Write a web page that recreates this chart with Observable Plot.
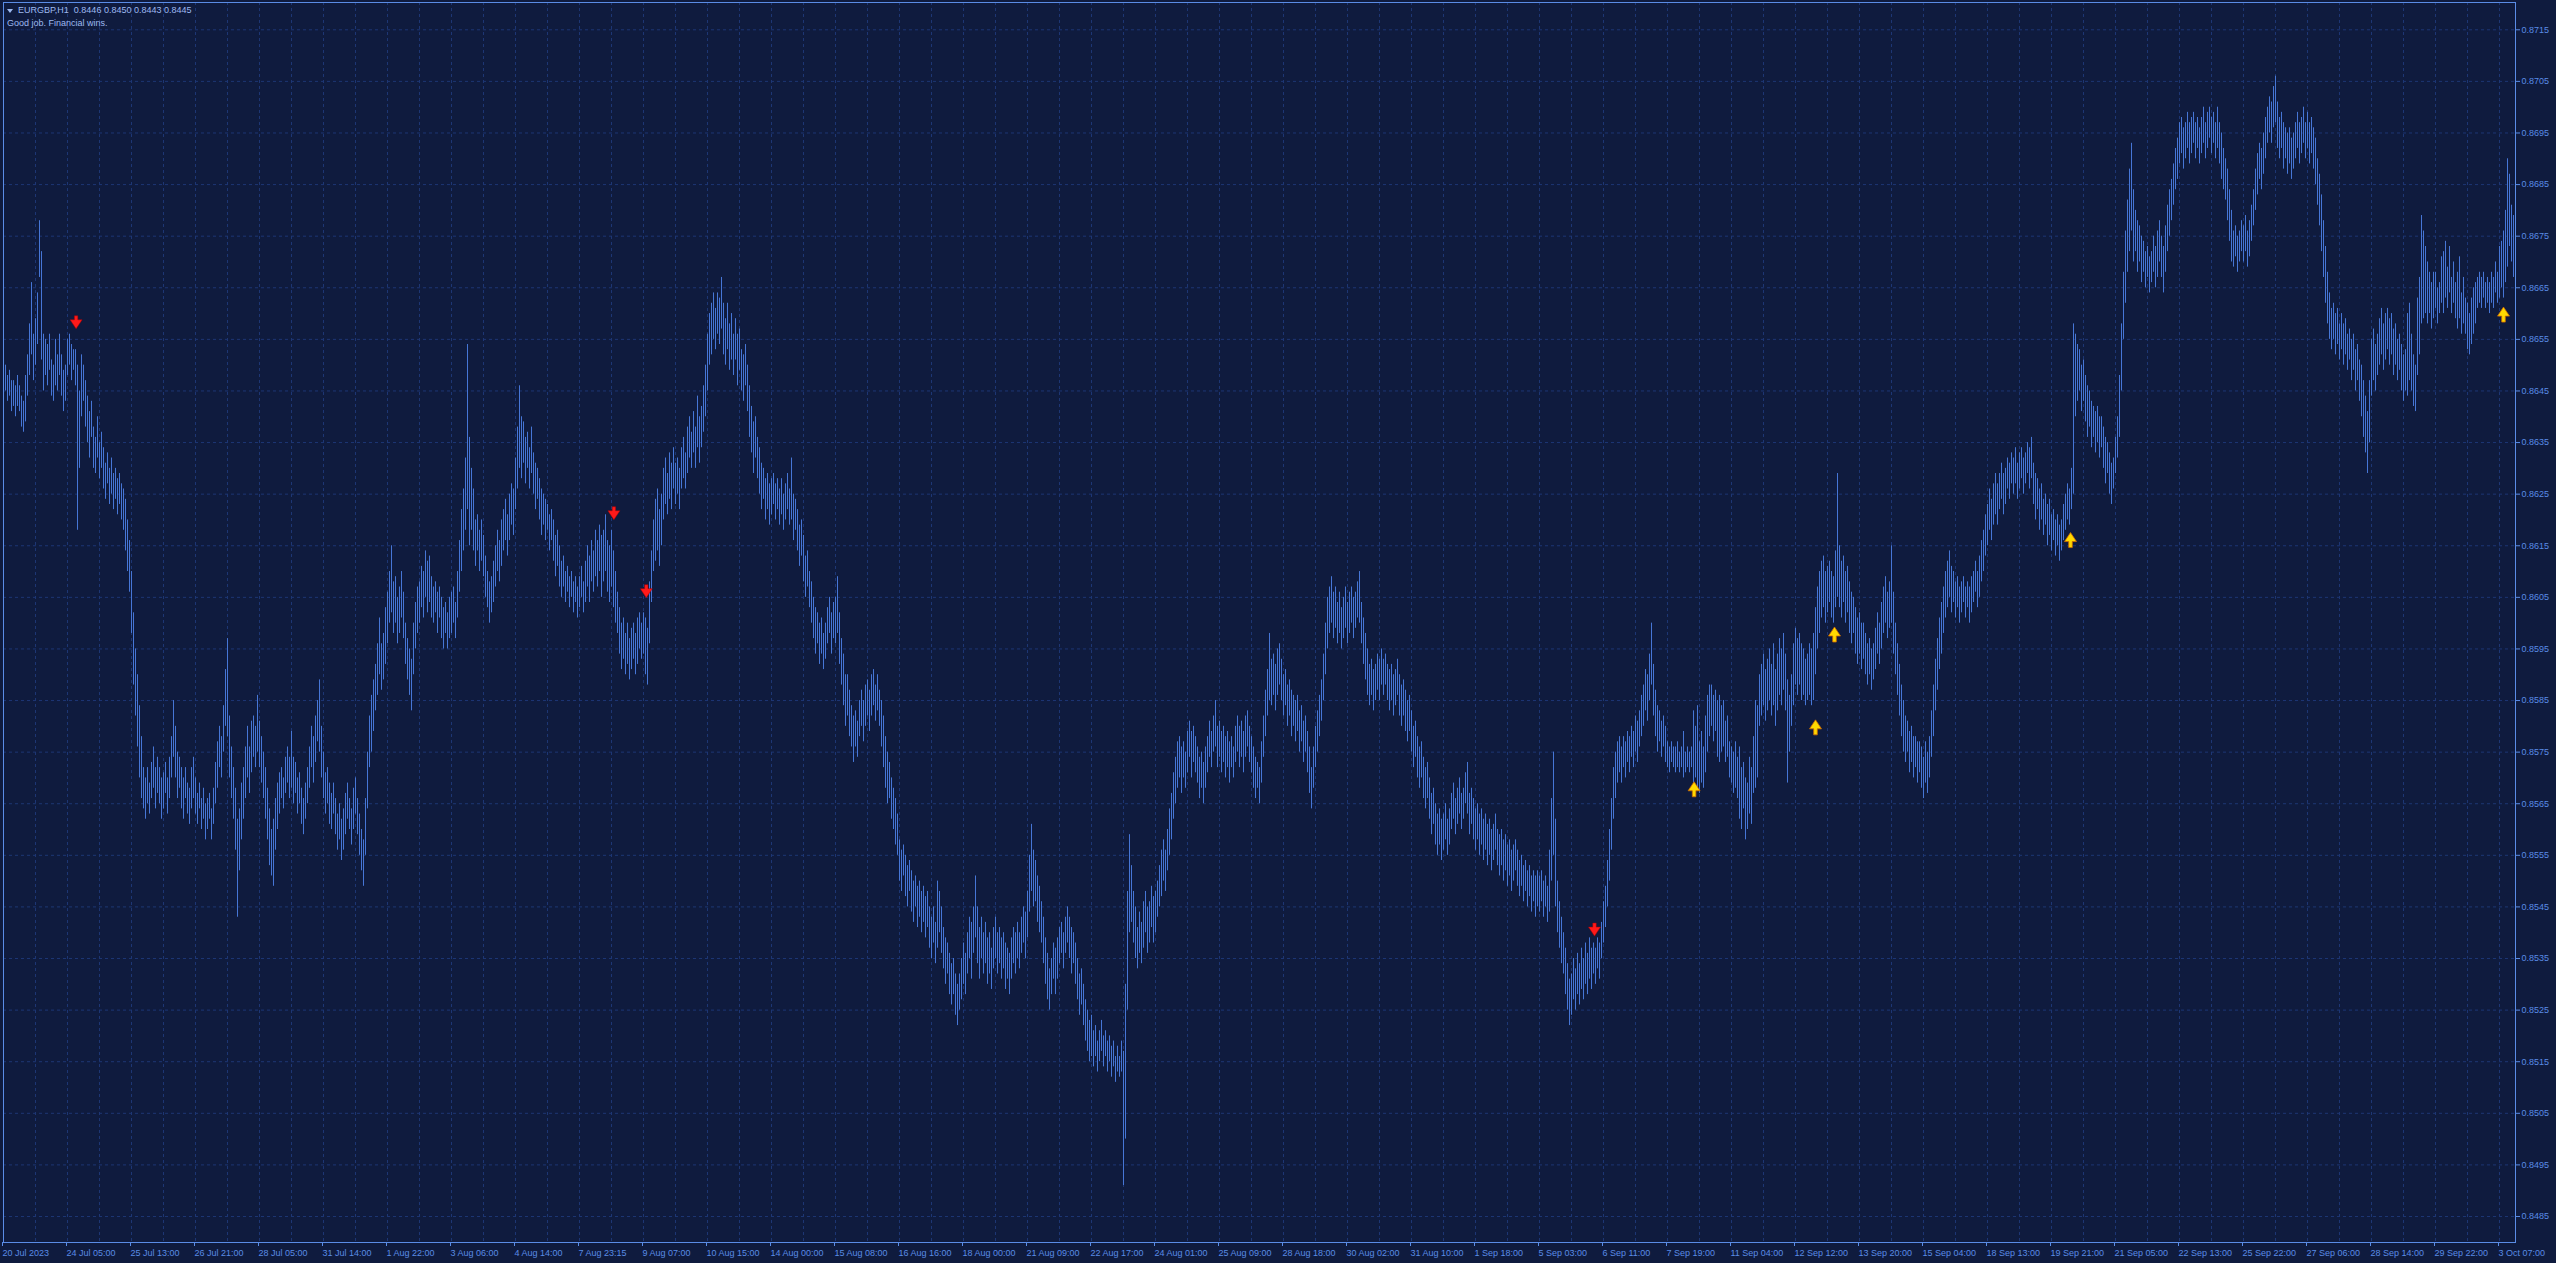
<!DOCTYPE html>
<html><head><meta charset="utf-8">
<script src="https://cdn.jsdelivr.net/npm/d3@7"></script>
<script src="https://cdn.jsdelivr.net/npm/@observablehq/plot@0.6"></script>
<style>
html,body{margin:0;padding:0;background:#0f1b3e;overflow:hidden;}
#wrap{position:relative;width:2556px;height:1263px;}
#tri{position:absolute;left:7px;top:9px;width:0;height:0;border-left:3px solid transparent;border-right:3px solid transparent;border-top:4px solid #9db9f0;}
#t1{position:absolute;left:18px;top:4px;font:9px "Liberation Sans",Arial,sans-serif;color:#9db9f0;line-height:13px;white-space:pre;}
#t2{position:absolute;left:7px;top:17px;font:9px "Liberation Sans",Arial,sans-serif;color:#9db9f0;line-height:13px;white-space:pre;}
</style></head><body>
<div id="wrap"><div id="chart"></div><div id="tri"></div><div id="t1">EURGBP,H1  0.8446 0.8450 0.8443 0.8445</div><div id="t2">Good job. Financial wins.</div></div>
<script>
// EURGBP H1 bars, values in pips (price = value / 10000), one per hourly bar
const low = [
8644,8645,8643,8644,8641,8642,8640,8642,8641,8638,8637,8639,8644,8648,8652,8647,8650,8654,8667,8651,8645,8648,8646,8649,8644,8643,8646,8645,8648,8644,8641,8643,
8648,8650,8647,8649,8646,8618,8630,8640,8643,8638,8635,8632,8636,8630,8629,8632,8628,8630,8626,8624,8627,8623,8625,8622,8624,8621,8623,8620,8618,8614,8610,8606,
8598,8588,8582,8576,8570,8566,8564,8562,8565,8563,8566,8568,8564,8567,8565,8562,8564,8567,8563,8566,8570,8574,8570,8566,8568,8564,8562,8566,8563,8561,8564,8566,
8563,8561,8564,8560,8562,8558,8560,8562,8558,8561,8565,8568,8572,8570,8575,8580,8578,8570,8566,8562,8556,8543,8552,8558,8562,8566,8570,8567,8571,8574,8572,8575,
8572,8569,8566,8562,8558,8553,8551,8549,8556,8560,8563,8566,8564,8567,8569,8566,8568,8565,8567,8563,8565,8561,8559,8562,8565,8568,8572,8569,8573,8577,8575,8570,
8566,8563,8565,8561,8560,8563,8559,8556,8558,8554,8556,8559,8562,8560,8557,8560,8563,8559,8555,8552,8549,8555,8564,8572,8575,8579,8583,8586,8590,8587,8589,8592,
8596,8600,8602,8598,8600,8596,8598,8601,8597,8592,8589,8586,8583,8590,8595,8598,8600,8603,8601,8605,8602,8604,8601,8600,8602,8598,8601,8597,8595,8598,8595,8597,
8598,8600,8597,8601,8606,8610,8614,8618,8622,8615,8618,8614,8611,8614,8610,8612,8609,8605,8603,8600,8602,8604,8607,8610,8608,8611,8614,8616,8613,8616,8619,8617,
8622,8626,8630,8628,8631,8627,8630,8626,8629,8625,8622,8624,8620,8617,8619,8616,8618,8614,8616,8612,8609,8611,8607,8605,8607,8604,8606,8603,8605,8602,8604,8601,
8603,8605,8602,8604,8607,8604,8608,8606,8609,8607,8610,8605,8608,8610,8606,8604,8607,8603,8600,8598,8594,8591,8593,8590,8592,8589,8591,8593,8590,8592,8595,8593,
8594,8590,8588,8596,8604,8610,8612,8614,8611,8615,8620,8623,8621,8624,8622,8626,8623,8625,8622,8626,8628,8626,8629,8632,8630,8633,8630,8634,8631,8634,8637,8640,
8645,8650,8652,8655,8653,8656,8654,8657,8652,8650,8653,8649,8651,8648,8651,8646,8649,8645,8643,8646,8641,8636,8633,8629,8632,8628,8625,8622,8624,8620,8622,8619,
8621,8623,8620,8622,8619,8621,8618,8620,8622,8619,8620,8616,8618,8614,8611,8613,8608,8605,8607,8603,8600,8597,8594,8596,8592,8594,8591,8593,8596,8598,8594,8597,
8596,8598,8592,8588,8584,8580,8582,8578,8576,8573,8576,8574,8578,8580,8577,8580,8582,8579,8582,8584,8581,8583,8580,8576,8572,8568,8565,8566,8562,8560,8557,8555,
8550,8548,8551,8547,8545,8548,8544,8542,8545,8541,8543,8540,8542,8539,8541,8537,8535,8538,8534,8537,8540,8536,8533,8530,8532,8528,8526,8528,8524,8522,8525,8527,
8530,8528,8532,8535,8531,8536,8539,8534,8531,8535,8532,8534,8530,8532,8529,8533,8535,8532,8534,8531,8533,8529,8531,8528,8531,8534,8532,8535,8533,8536,8538,8535,
8539,8544,8548,8545,8546,8542,8540,8538,8534,8530,8527,8525,8528,8531,8528,8531,8534,8536,8533,8536,8538,8535,8532,8534,8530,8527,8524,8526,8522,8519,8517,8515,
8516,8514,8516,8513,8515,8517,8514,8516,8513,8515,8512,8514,8511,8513,8512,8513,8491,8500,8525,8540,8542,8538,8535,8533,8536,8534,8537,8540,8536,8538,8541,8538,
8540,8543,8545,8547,8550,8548,8552,8555,8558,8562,8565,8568,8570,8567,8570,8568,8571,8574,8570,8573,8571,8569,8566,8568,8565,8568,8571,8574,8572,8575,8576,8572,
8574,8571,8573,8570,8572,8569,8572,8570,8573,8575,8572,8574,8571,8574,8576,8573,8571,8568,8566,8568,8565,8569,8574,8578,8582,8585,8584,8586,8583,8586,8588,8585,
8582,8584,8580,8582,8578,8580,8577,8579,8575,8577,8573,8575,8571,8567,8564,8568,8572,8575,8578,8581,8585,8590,8595,8598,8600,8597,8599,8596,8598,8595,8597,8599,
8596,8598,8600,8597,8599,8601,8600,8596,8592,8589,8586,8584,8586,8583,8585,8587,8585,8588,8586,8588,8585,8583,8585,8582,8584,8586,8582,8580,8582,8579,8577,8579,
8575,8572,8574,8570,8568,8570,8566,8564,8566,8562,8559,8561,8557,8555,8557,8554,8556,8558,8555,8557,8560,8562,8559,8561,8563,8560,8562,8565,8563,8559,8561,8558,
8556,8558,8555,8557,8554,8556,8553,8555,8552,8554,8556,8553,8551,8553,8550,8552,8549,8551,8548,8550,8552,8549,8547,8549,8546,8548,8545,8547,8544,8546,8543,8545,
8544,8546,8543,8545,8542,8544,8550,8555,8545,8540,8537,8534,8532,8528,8525,8522,8524,8527,8525,8528,8526,8529,8527,8530,8528,8531,8529,8532,8530,8533,8531,8535,
8538,8541,8545,8550,8556,8562,8566,8569,8571,8569,8572,8570,8573,8571,8574,8572,8575,8573,8576,8578,8580,8583,8581,8585,8588,8582,8578,8575,8577,8574,8576,8573,
8572,8571,8573,8572,8571,8572,8571,8572,8570,8571,8572,8571,8572,8569,8570,8568,8567,8569,8568,8571,8575,8578,8580,8577,8579,8574,8573,8575,8576,8573,8574,8570,
8569,8567,8568,8566,8562,8560,8564,8558,8560,8563,8561,8567,8568,8570,8580,8582,8584,8581,8583,8585,8582,8584,8580,8583,8586,8584,8587,8583,8569,8575,8580,8584,
8588,8586,8588,8585,8586,8584,8585,8586,8584,8585,8590,8595,8598,8601,8603,8600,8602,8604,8601,8600,8603,8605,8603,8601,8604,8600,8602,8598,8596,8598,8594,8592,
8594,8591,8593,8590,8588,8590,8587,8589,8591,8594,8592,8595,8598,8600,8597,8599,8600,8594,8590,8586,8582,8578,8575,8573,8575,8571,8573,8570,8572,8569,8571,8568,
8566,8569,8567,8570,8574,8578,8583,8587,8591,8594,8598,8601,8603,8605,8602,8604,8601,8603,8600,8602,8604,8601,8603,8600,8602,8604,8606,8603,8605,8608,8610,8613,
8615,8618,8616,8619,8621,8619,8622,8624,8621,8623,8626,8624,8627,8625,8627,8624,8626,8628,8625,8627,8629,8626,8628,8623,8620,8622,8618,8620,8617,8619,8615,8617,
8614,8616,8613,8615,8612,8614,8616,8618,8620,8619,8622,8625,8640,8643,8645,8641,8643,8639,8636,8638,8634,8636,8633,8635,8632,8634,8630,8627,8629,8625,8623,8626,
8629,8632,8636,8645,8655,8662,8668,8672,8676,8670,8672,8668,8670,8666,8668,8665,8667,8664,8666,8668,8665,8667,8670,8667,8664,8668,8672,8675,8678,8681,8684,8686,
8689,8691,8688,8690,8692,8689,8691,8693,8690,8692,8689,8691,8693,8690,8692,8694,8691,8693,8690,8692,8689,8686,8684,8682,8678,8674,8670,8669,8671,8668,8670,8672,
8670,8672,8669,8671,8674,8677,8680,8683,8686,8684,8687,8690,8693,8695,8693,8696,8697,8692,8690,8692,8688,8690,8687,8689,8686,8688,8690,8692,8689,8691,8693,8690,
8692,8689,8691,8688,8685,8681,8677,8672,8667,8662,8658,8655,8653,8655,8652,8654,8651,8653,8650,8652,8649,8651,8647,8649,8645,8647,8643,8640,8636,8633,8629,8635,
8644,8647,8645,8648,8650,8652,8649,8651,8653,8650,8652,8648,8650,8647,8649,8645,8643,8645,8644,8647,8645,8642,8641,8648,8652,8658,8659,8660,8658,8660,8657,8659,
8661,8658,8660,8662,8660,8663,8661,8664,8660,8662,8659,8657,8659,8656,8658,8656,8653,8652,8654,8656,8658,8661,8662,8661,8663,8661,8662,8660,8662,8661,8664,8662,
8663,8665,8663,8666,8669,8673,8670,8667
];
const high = [
8648,8650,8648,8649,8647,8647,8646,8648,8646,8644,8643,8648,8652,8658,8666,8656,8659,8664,8678,8672,8656,8655,8654,8656,8651,8650,8655,8652,8656,8652,8649,8650,
8655,8656,8654,8653,8653,8650,8645,8652,8650,8647,8644,8641,8643,8638,8636,8640,8635,8637,8634,8631,8633,8630,8632,8629,8630,8628,8629,8627,8626,8624,8620,8616,
8610,8602,8595,8590,8584,8578,8572,8570,8572,8569,8573,8576,8572,8574,8572,8570,8571,8573,8570,8574,8578,8585,8580,8575,8574,8572,8570,8572,8569,8568,8572,8574,
8570,8567,8569,8566,8568,8565,8566,8567,8564,8568,8573,8577,8580,8578,8584,8591,8597,8582,8576,8572,8568,8562,8564,8569,8572,8576,8580,8576,8581,8582,8580,8586,
8581,8578,8575,8572,8568,8564,8560,8562,8566,8569,8571,8572,8570,8574,8576,8574,8579,8574,8573,8570,8571,8568,8566,8569,8572,8576,8580,8578,8582,8585,8589,8580,
8575,8571,8572,8569,8567,8569,8566,8563,8565,8562,8564,8567,8569,8566,8564,8568,8570,8566,8563,8560,8558,8566,8575,8582,8586,8589,8592,8596,8601,8596,8598,8603,
8606,8610,8615,8608,8609,8605,8607,8610,8606,8600,8597,8595,8593,8600,8604,8607,8608,8611,8610,8614,8612,8613,8609,8607,8608,8606,8607,8605,8603,8604,8602,8605,
8606,8607,8604,8610,8616,8622,8626,8632,8654,8636,8630,8626,8620,8621,8618,8620,8617,8613,8610,8608,8609,8612,8615,8618,8616,8620,8622,8624,8621,8625,8627,8626,
8632,8638,8646,8640,8639,8636,8637,8634,8638,8633,8631,8630,8628,8626,8625,8624,8623,8621,8622,8620,8617,8618,8615,8612,8613,8610,8611,8609,8610,8608,8609,8607,
8609,8611,8608,8612,8615,8613,8616,8614,8618,8616,8619,8617,8618,8621,8616,8615,8618,8614,8610,8606,8603,8600,8601,8598,8600,8597,8599,8600,8598,8601,8602,8600,
8602,8601,8599,8608,8614,8620,8624,8626,8622,8625,8630,8632,8629,8633,8631,8634,8631,8632,8630,8634,8636,8633,8638,8640,8637,8641,8638,8644,8640,8642,8646,8650,
8656,8660,8662,8664,8661,8664,8663,8667,8662,8659,8662,8658,8660,8656,8659,8656,8657,8653,8652,8654,8650,8646,8642,8639,8640,8636,8634,8631,8630,8628,8629,8627,
8628,8629,8627,8628,8626,8628,8625,8627,8629,8626,8632,8625,8624,8622,8619,8620,8617,8613,8614,8610,8608,8605,8603,8602,8600,8601,8598,8600,8603,8605,8602,8604,
8605,8609,8602,8597,8594,8590,8590,8587,8584,8582,8583,8581,8585,8587,8585,8588,8589,8587,8590,8591,8588,8590,8587,8585,8582,8578,8575,8573,8570,8568,8566,8563,
8558,8556,8557,8555,8553,8554,8552,8550,8551,8549,8550,8548,8549,8547,8548,8545,8543,8545,8542,8550,8548,8545,8541,8539,8538,8536,8534,8535,8532,8530,8532,8535,
8538,8536,8540,8543,8542,8545,8551,8545,8541,8543,8540,8542,8539,8540,8537,8541,8543,8540,8541,8539,8540,8538,8537,8536,8539,8541,8540,8542,8540,8543,8545,8544,
8548,8555,8561,8556,8554,8551,8549,8546,8543,8539,8536,8533,8535,8538,8537,8539,8541,8542,8540,8543,8545,8543,8541,8540,8538,8535,8532,8533,8530,8527,8525,8523,
8524,8521,8522,8519,8521,8523,8520,8521,8519,8520,8518,8519,8516,8518,8516,8519,8517,8530,8548,8559,8553,8548,8545,8541,8544,8542,8546,8548,8545,8546,8549,8547,
8548,8550,8553,8556,8558,8556,8560,8564,8567,8571,8574,8577,8578,8576,8577,8575,8579,8581,8579,8580,8578,8576,8574,8575,8573,8576,8578,8581,8579,8582,8585,8580,
8581,8579,8580,8578,8579,8577,8578,8576,8580,8582,8580,8581,8579,8582,8583,8580,8578,8576,8574,8573,8572,8577,8582,8587,8591,8598,8593,8594,8592,8595,8596,8593,
8590,8591,8588,8589,8587,8586,8585,8586,8583,8584,8581,8582,8579,8576,8572,8576,8580,8583,8586,8589,8594,8600,8605,8607,8609,8606,8607,8604,8606,8603,8605,8607,
8604,8606,8607,8605,8606,8608,8610,8604,8601,8598,8595,8592,8593,8591,8592,8594,8593,8595,8593,8594,8592,8591,8592,8590,8591,8593,8590,8588,8589,8587,8585,8586,
8583,8580,8581,8578,8576,8577,8574,8572,8573,8570,8567,8568,8565,8563,8564,8562,8563,8565,8562,8564,8567,8569,8566,8568,8570,8567,8568,8571,8573,8567,8568,8566,
8564,8565,8563,8564,8562,8563,8561,8562,8560,8561,8563,8560,8559,8560,8558,8559,8557,8558,8556,8557,8558,8556,8554,8555,8553,8554,8552,8553,8551,8552,8551,8552,
8551,8552,8550,8551,8549,8556,8566,8575,8562,8550,8546,8543,8540,8537,8534,8531,8532,8535,8533,8536,8534,8537,8535,8538,8536,8539,8537,8538,8537,8539,8538,8542,
8546,8549,8554,8560,8566,8572,8575,8577,8578,8576,8578,8577,8579,8578,8580,8579,8582,8581,8583,8586,8588,8591,8590,8594,8600,8592,8587,8584,8583,8581,8582,8580,
8577,8576,8577,8576,8576,8577,8575,8576,8579,8575,8576,8575,8576,8583,8580,8584,8577,8579,8576,8582,8586,8588,8588,8586,8587,8585,8586,8584,8585,8581,8582,8577,
8576,8575,8577,8574,8576,8572,8573,8570,8569,8574,8572,8578,8585,8584,8590,8592,8594,8591,8593,8595,8592,8596,8591,8594,8597,8595,8598,8594,8589,8586,8590,8596,
8599,8597,8598,8596,8595,8593,8594,8596,8595,8598,8603,8607,8610,8612,8613,8610,8611,8612,8610,8609,8614,8629,8615,8612,8613,8610,8611,8608,8606,8605,8603,8601,
8602,8600,8600,8598,8596,8597,8595,8596,8599,8602,8600,8604,8607,8609,8606,8608,8615,8606,8600,8596,8592,8588,8585,8582,8581,8579,8580,8578,8578,8577,8577,8576,
8574,8577,8575,8578,8583,8588,8593,8597,8601,8604,8607,8610,8612,8614,8611,8610,8608,8609,8607,8608,8609,8607,8608,8607,8609,8610,8612,8610,8613,8616,8618,8621,
8623,8626,8624,8627,8629,8627,8629,8631,8629,8630,8632,8631,8633,8632,8634,8631,8633,8634,8632,8633,8635,8634,8636,8631,8629,8628,8626,8627,8624,8625,8623,8624,
8621,8622,8620,8621,8619,8620,8623,8625,8627,8626,8630,8658,8656,8654,8653,8650,8651,8648,8646,8645,8643,8642,8641,8642,8640,8640,8638,8636,8635,8633,8631,8632,
8636,8640,8648,8658,8668,8676,8682,8688,8693,8684,8680,8678,8677,8675,8674,8672,8673,8671,8672,8675,8673,8676,8678,8675,8673,8677,8681,8684,8686,8689,8692,8694,
8697,8698,8696,8697,8699,8697,8698,8699,8697,8698,8696,8698,8700,8697,8699,8700,8698,8699,8697,8700,8697,8695,8692,8690,8688,8684,8680,8676,8677,8675,8676,8678,
8677,8679,8676,8678,8681,8684,8688,8691,8693,8692,8695,8698,8700,8702,8701,8704,8706,8701,8698,8699,8697,8696,8695,8696,8694,8695,8697,8699,8697,8698,8700,8697,
8699,8697,8698,8696,8694,8690,8687,8683,8678,8673,8668,8664,8661,8662,8660,8661,8658,8660,8658,8659,8656,8657,8655,8656,8653,8654,8651,8650,8647,8644,8641,8647,
8655,8657,8654,8656,8659,8661,8658,8660,8661,8659,8660,8657,8658,8655,8656,8654,8652,8653,8660,8662,8656,8652,8650,8663,8667,8679,8676,8673,8670,8668,8666,8668,
8668,8665,8666,8671,8672,8674,8669,8673,8667,8670,8666,8668,8671,8664,8667,8663,8662,8660,8663,8665,8666,8667,8668,8667,8668,8666,8667,8666,8668,8667,8670,8668,
8673,8674,8676,8680,8690,8687,8681,8679
];
// Time-axis labels, one every 32 bars
const xLabels = ["20 Jul 2023","24 Jul 05:00","25 Jul 13:00","26 Jul 21:00","28 Jul 05:00","31 Jul 14:00","1 Aug 22:00","3 Aug 06:00","4 Aug 14:00","7 Aug 23:15",
"9 Aug 07:00","10 Aug 15:00","14 Aug 00:00","15 Aug 08:00","16 Aug 16:00","18 Aug 00:00","21 Aug 09:00","22 Aug 17:00","24 Aug 01:00","25 Aug 09:00",
"28 Aug 18:00","30 Aug 02:00","31 Aug 10:00","1 Sep 18:00","5 Sep 03:00","6 Sep 11:00","7 Sep 19:00","11 Sep 04:00","12 Sep 12:00","13 Sep 20:00",
"15 Sep 04:00","18 Sep 13:00","19 Sep 21:00","21 Sep 05:00","22 Sep 13:00","25 Sep 22:00","27 Sep 06:00","28 Sep 14:00","29 Sep 22:00","3 Oct 07:00"];
const yTickPips = [8485,8495,8505,8515,8525,8535,8545,8555,8565,8575,8585,8595,8605,8615,8625,8635,8645,8655,8665,8675,8685,8695,8705,8715];
// Signal arrows: bar index and price (pips)
const sellArrows = [{i:36.3,p:8658.3},{i:305.2,p:8621.3},{i:321.4,p:8606.2},{i:795.5,p:8540.6}];
const buyArrows = [{i:845.3,p:8567.8},{i:906,p:8579.8},{i:915.5,p:8597.8},{i:1033.5,p:8616.1},{i:1250,p:8659.8}];

const BG="#0f1b3e", GRID="#1d3674", AXIS="#5a8ce6", BAR="#4676d6";
const n = Math.min(low.length, high.length);
const bars = d3.range(n).map(i => ({i, lo: low[i]/10000, hi: high[i]/10000}));
const yTicks = yTickPips.map(v => v/10000);
const xTicks = xLabels.map((_, k) => k*32);
const vGrid = d3.range(0, 1257, 16);

const downArrow = {draw(ctx){
  ctx.moveTo(-1.7,-6.5); ctx.lineTo(1.7,-6.5); ctx.lineTo(1.7,-2.5); ctx.lineTo(6,-2.5);
  ctx.lineTo(0,6.5); ctx.lineTo(-6,-2.5); ctx.lineTo(-1.7,-2.5); ctx.closePath();
}};
const upArrow = {draw(ctx){
  ctx.moveTo(-1.8,7.5); ctx.lineTo(1.8,7.5); ctx.lineTo(1.8,1.5); ctx.lineTo(6,1.5);
  ctx.lineTo(0,-7.5); ctx.lineTo(-6,1.5); ctx.lineTo(-1.8,1.5); ctx.closePath();
}};

const chart = Plot.plot({
  width: 2556, height: 1263,
  marginLeft: 3, marginRight: 41, marginTop: 2, marginBottom: 21,
  style: {background: BG, fontFamily: "'Liberation Sans', Arial, sans-serif", fontSize: "9px", color: AXIS},
  x: {type: "linear", domain: [0, 1256], axis: null},
  y: {domain: [0.847996, 0.872029], axis: null},
  marks: [
    Plot.ruleY(yTicks, {stroke: GRID, strokeDasharray: "3,3"}),
    Plot.ruleX(vGrid, {stroke: GRID, strokeDasharray: "3,3"}),
    Plot.ruleX(bars, {x: "i", y1: "lo", y2: "hi", stroke: BAR, strokeWidth: 1}),
    Plot.dot(sellArrows, {x: "i", y: d => d.p/10000, symbol: downArrow, r: 6, fill: "#ff1a1a", stroke: "#b00000", strokeWidth: 0.5}),
    Plot.dot(buyArrows, {x: "i", y: d => d.p/10000, symbol: upArrow, r: 6, fill: "#ffd900", stroke: "#d06a00", strokeWidth: 0.8}),
    Plot.axisY(yTicks, {anchor: "right", tickFormat: d3.format(".4f"), tickSize: 4, tickPadding: 2, stroke: AXIS, fill: AXIS, label: null}),
    Plot.axisX(xTicks, {anchor: "bottom", tickFormat: d => xLabels[Math.round(d/32)], textAnchor: "start", tickSize: 4, tickPadding: 3, dx: -1, stroke: AXIS, fill: AXIS, label: null}),
    Plot.frame({stroke: AXIS})
  ]
});
document.getElementById("chart").appendChild(chart);
</script>
</body></html>
